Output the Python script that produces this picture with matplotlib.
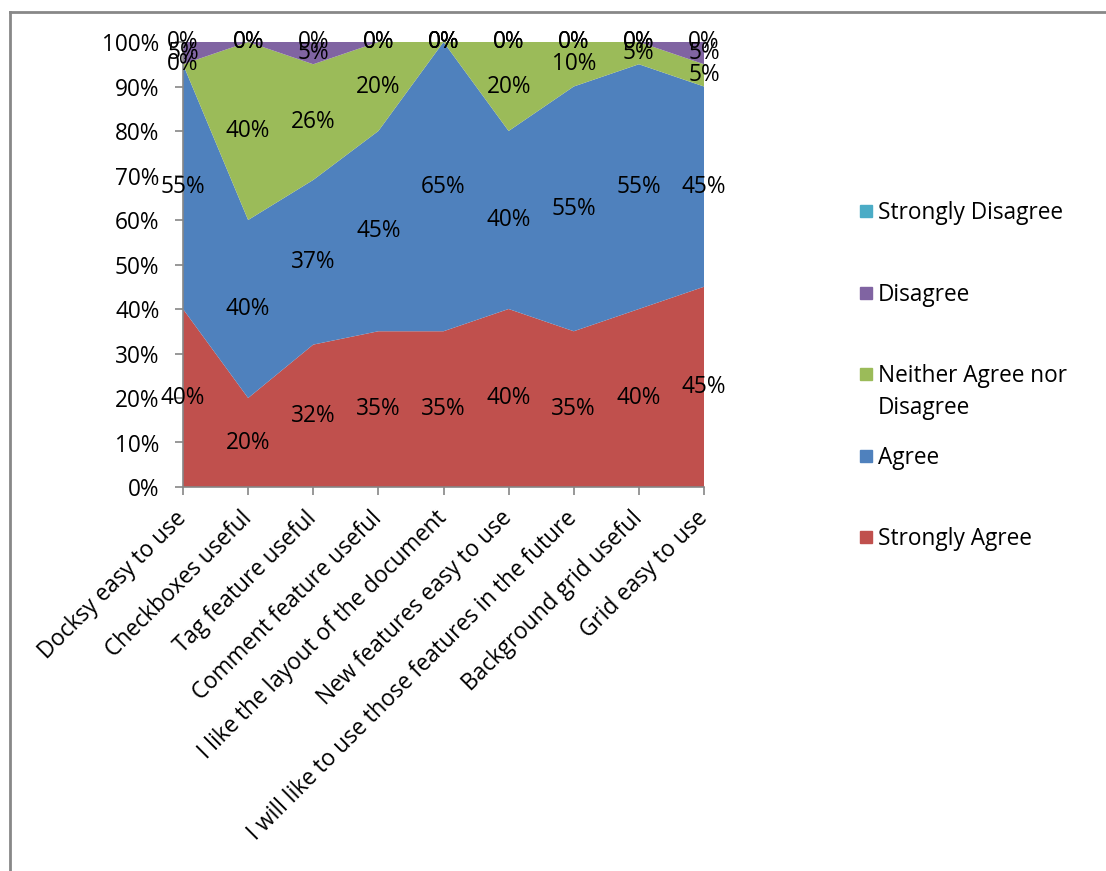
import matplotlib
matplotlib.use("Agg")
import matplotlib.pyplot as plt
from matplotlib.patches import Rectangle
from matplotlib.ticker import PercentFormatter, FixedLocator
import numpy as np

categories = ["Docksy easy to use", "Checkboxes useful", "Tag feature useful",
              "Comment feature useful", "I like the layout of the document",
              "New features easy to use", "I will like to use those features in the future",
              "Background grid useful", "Grid easy to use"]
strongly_agree = [40, 20, 32, 35, 35, 40, 35, 40, 45]
agree = [55, 40, 37, 45, 65, 40, 55, 55, 45]
neither = [0, 40, 26, 20, 0, 20, 10, 5, 5]
disagree = [5, 0, 5, 0, 0, 0, 0, 0, 5]
strongly_disagree = [0, 0, 0, 0, 0, 0, 0, 0, 0]

series_names = ["Strongly Agree", "Agree", "Neither Agree nor\nDisagree", "Disagree", "Strongly Disagree"]
series = [strongly_agree, agree, neither, disagree, strongly_disagree]
colors = ["#C0504D", "#4F81BD", "#9BBB59", "#8064A2", "#4BACC6"]

FONT = "Open Sans"
FS = 16.3
plt.rcParams['font.family'] = [FONT, 'DejaVu Sans']

fig = plt.figure(figsize=(11.06, 8.71), dpi=100)
ax = fig.add_axes([183/1106, 1-487/871, (704-183)/1106, (487-42)/871])

data = np.array(series, dtype=float)
totals = data.sum(axis=0)
pct = data / totals * 100
x = np.arange(len(categories))
ax.stackplot(x, pct, colors=colors, linewidth=0)

cum = np.cumsum(pct, axis=0)
for si in range(len(series)):
    for ci in range(len(categories)):
        mid = cum[si, ci] - pct[si, ci] / 2
        ax.text(x[ci], mid, f"{series[si][ci]:.0f}%", ha="center", va="center",
                fontsize=FS, color="black", clip_on=False)

ax.set_xlim(0, len(categories) - 1)
ax.set_ylim(0, 100)
ax.yaxis.set_major_locator(FixedLocator(np.arange(0, 101, 10)))
ax.yaxis.set_major_formatter(PercentFormatter(decimals=0))
ax.set_xticks(x)
ax.set_xticklabels(categories, rotation=45, ha="right", va="center", rotation_mode="anchor")
for sp in ["top", "right"]:
    ax.spines[sp].set_visible(False)
for sp in ["left", "bottom"]:
    ax.spines[sp].set_color("#868686")
    ax.spines[sp].set_linewidth(1.2)
ax.tick_params(axis="both", colors="#868686", labelcolor="black", labelsize=FS,
               length=6, width=1.2, direction="out")
ax.tick_params(axis="x", pad=14)
ax.tick_params(axis="y", pad=11)

# legend (manual, top to bottom)
leg_y = [211, 293, 374, 456, 537]
leg_items = list(zip(series_names, colors))[::-1]
for (name, col), yy in zip(leg_items, leg_y):
    fig.patches.append(Rectangle((860/1106, 1-(yy+6)/871), 12/1106, 12/871,
                                 transform=fig.transFigure, color=col))
    for li, line in enumerate(name.split("\n")):
        fig.text(878/1106, 1-(yy+8+li*32)/871, line, ha="left", va="baseline",
                 fontsize=FS)

# outer frame
fig.add_artist(plt.Line2D([10/1106, 10/1106], [0, 1-12/871], transform=fig.transFigure,
                          color="#888888", linewidth=2))
fig.add_artist(plt.Line2D([10/1106, 1], [1-12/871, 1-12/871], transform=fig.transFigure,
                          color="#888888", linewidth=2))

fig.savefig("out.png", dpi=100)
